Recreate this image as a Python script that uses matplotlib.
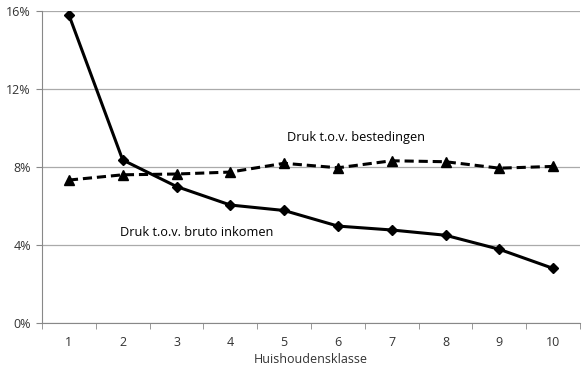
import numpy as np
import matplotlib.pyplot as plt

plt.rcParams['font.family'] = ['Open Sans', 'DejaVu Sans']

klasse = np.arange(1, 11)
bruto_inkomen = [15.8, 8.36, 7.0, 6.05, 5.77, 4.97, 4.77, 4.5, 3.78, 2.8]
bestedingen = [7.33, 7.6, 7.64, 7.74, 8.19, 7.96, 8.32, 8.27, 7.94, 8.03]
yticks = [0, 4, 8, 12, 16]

fig = plt.figure(figsize=(5.84, 3.73), dpi=100)
ax = fig.add_axes([42 / 584, 1 - 323 / 373, 538 / 584, 312 / 373])

ax.plot(klasse, bruto_inkomen, color='black', lw=2.2, marker='D', ms=5, zorder=5)
ax.plot(klasse, bestedingen, color='black', lw=2.2, ls=(0, (3, 1.6)), marker='^', ms=7, zorder=5)

ax.text(5.05, 9.5, 'Druk t.o.v. bestedingen', fontsize=9.2, va='center')
ax.text(1.95, 4.65, 'Druk t.o.v. bruto inkomen', fontsize=9.2, va='center')

ax.set_xlim(0.5, 10.5)
ax.set_ylim(0, 16)
ax.set_yticks(yticks)
ax.set_yticklabels([f'{v}%' for v in yticks], fontsize=9, color='#333333')
ax.set_xticks(klasse)
ax.set_xticklabels([str(k) for k in klasse], fontsize=9, color='#333333')
ax.set_xticks(np.arange(0.5, 11, 1), minor=True)
ax.tick_params(axis='x', which='major', length=0, pad=9)
ax.tick_params(axis='x', which='minor', length=4, color='#888888', direction='out')
ax.tick_params(axis='y', length=4, color='#888888', direction='out', pad=4)
ax.grid(axis='y', color='#aaaaaa', lw=0.9)
ax.set_axisbelow(True)
for s in ['top', 'right']:
    ax.spines[s].set_visible(False)
for s in ['left', 'bottom']:
    ax.spines[s].set_color('#888888')
ax.set_xlabel('Huishoudensklasse', fontsize=9, color='#333333', labelpad=3)

fig.savefig('out.png', dpi=100)
